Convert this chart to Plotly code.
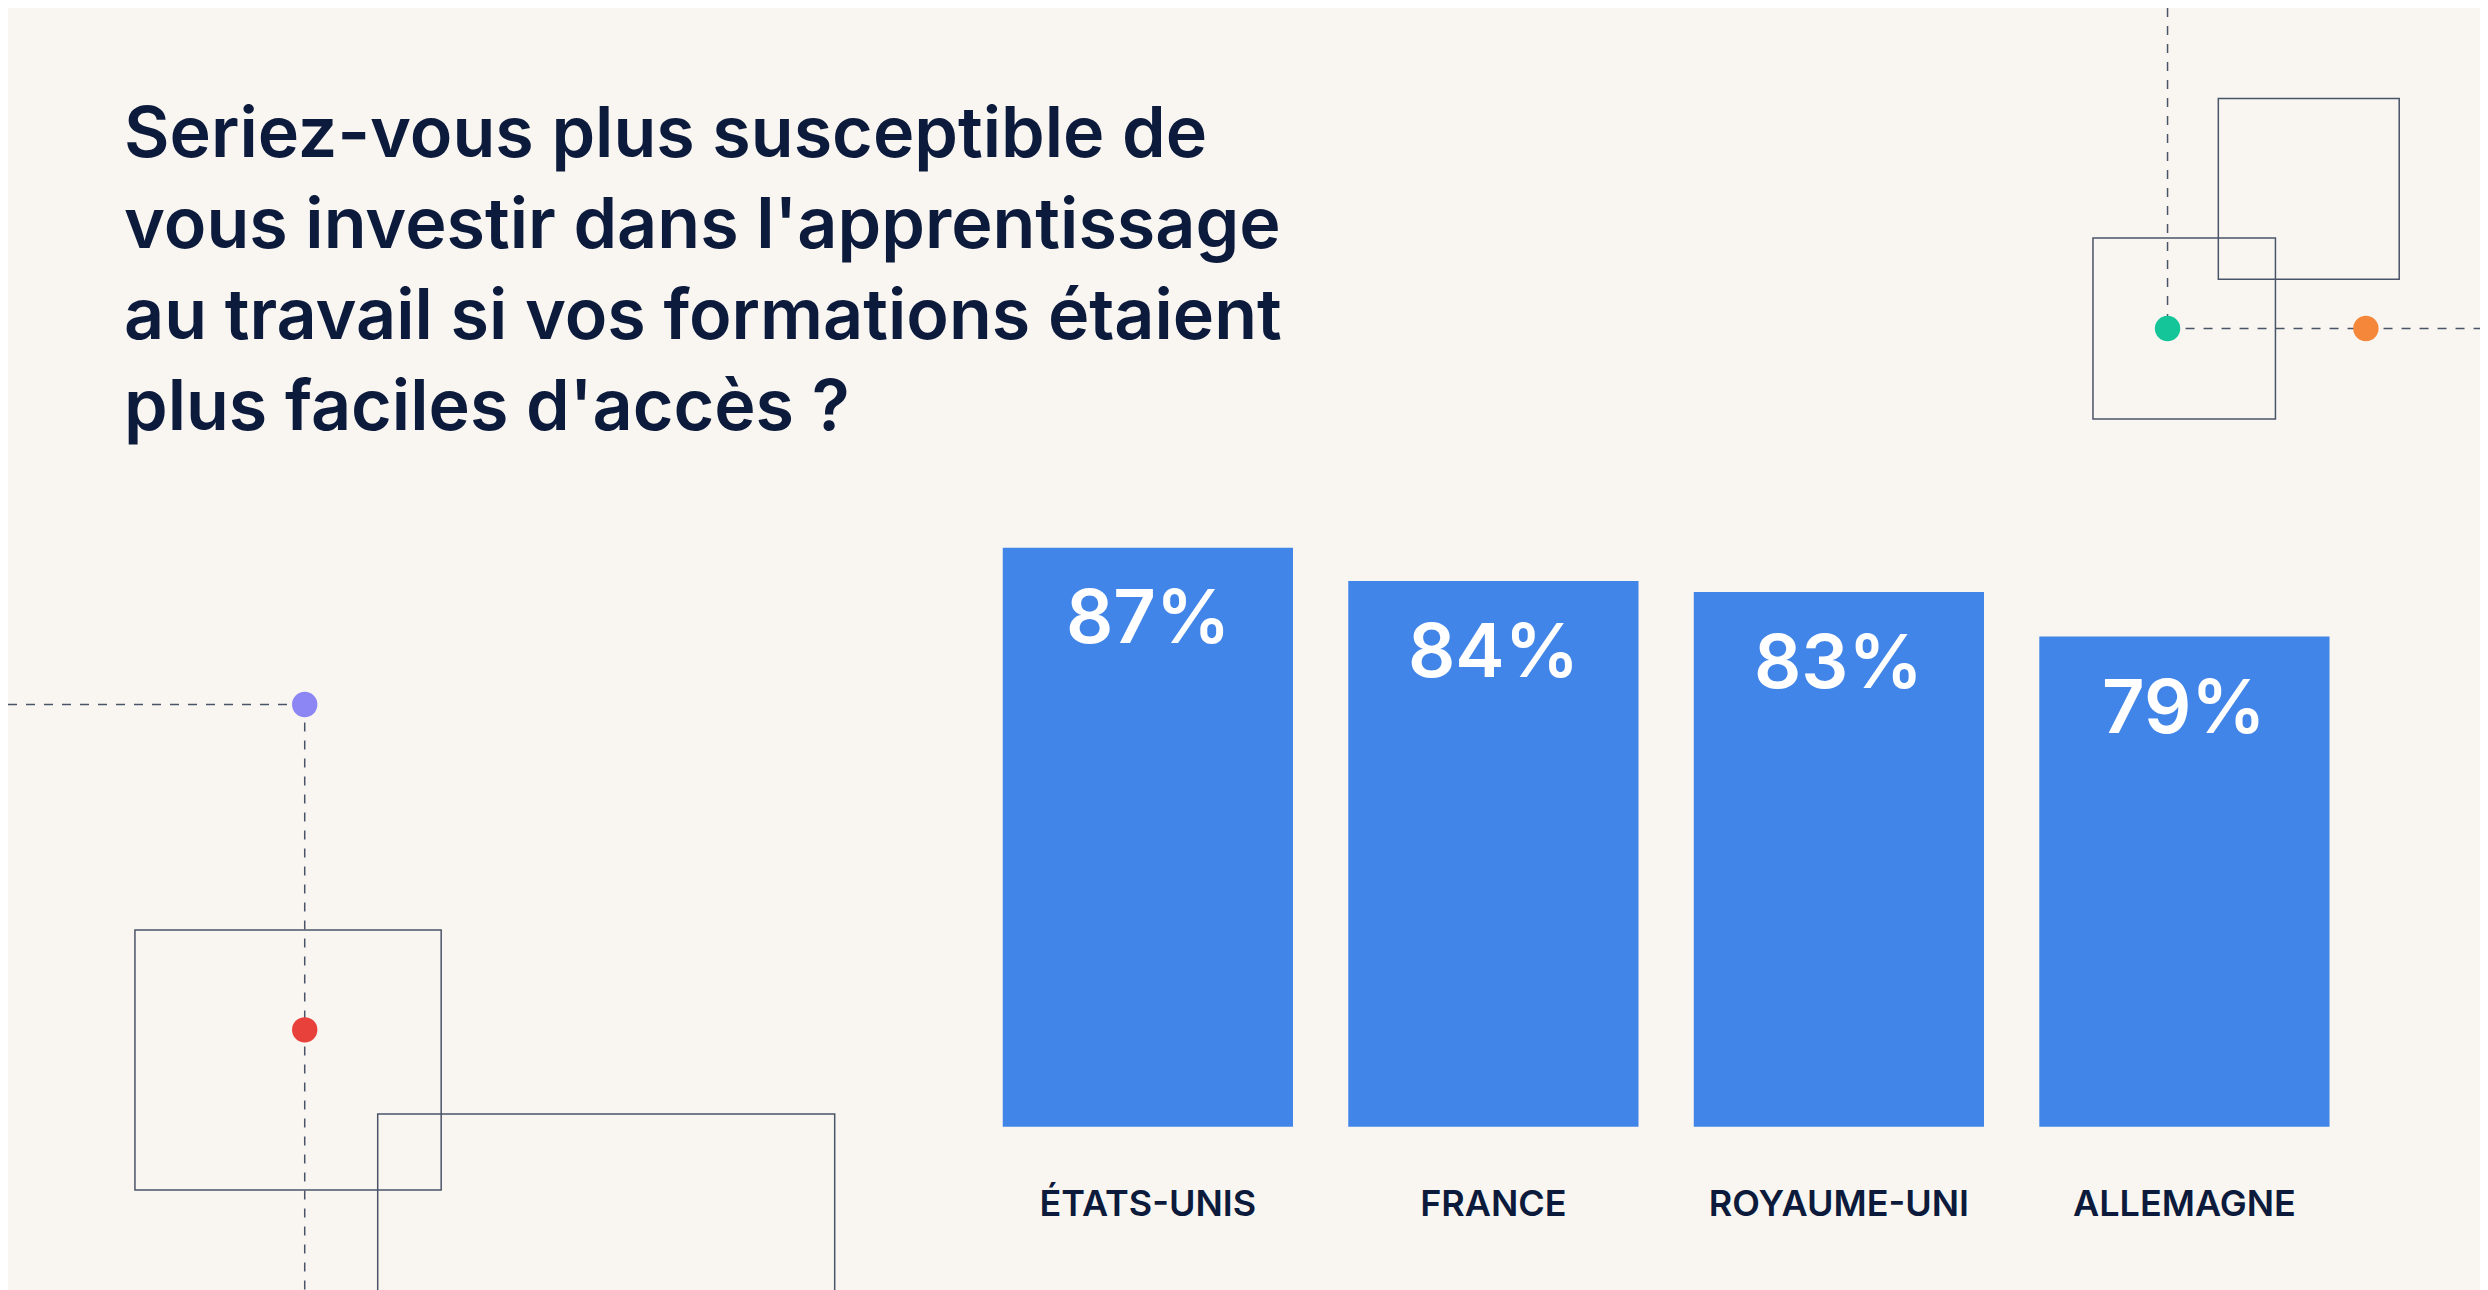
import plotly.graph_objects as go

countries = ["ÉTATS-UNIS", "FRANCE", "ROYAUME-UNI", "ALLEMAGNE"]
values = [87, 84, 83, 79]
labels = ["87%", "84%", "83%", "79%"]

W, H = 1568, 813  # layout sketch units, mapped to paper


def px(x):
    return x / W


def py(y):
    return 1 - y / H


fig = go.Figure()
fig.add_trace(go.Bar(x=countries, y=values, marker=dict(color="#4285e8", line=dict(width=0)),
                     hoverinfo="skip"))

for c, v, t in zip(countries, values, labels):
    fig.add_annotation(x=c, y=v, text=t, showarrow=False, yanchor="top", yshift=-22,
                       font=dict(family="Inter", size=74, color="white", weight=600))

line_col = "#4a5468"
shapes = []
for x0, y0, x1, y1 in [(1393, 57, 1507, 171), (1314, 145, 1429, 259),
                       (80, 581, 273, 745), (233, 697, 521, 830)]:
    shapes.append(dict(type="rect", xref="paper", yref="paper", x0=px(x0), x1=px(x1),
                       y0=py(y0), y1=py(y1), line=dict(color=line_col, width=1.5)))
for x0, y0, x1, y1 in [(1361, 0, 1361, 202), (1361, 202, 1568, 202),
                       (0, 439, 187, 439), (187, 439, 187, 813)]:
    shapes.append(dict(type="line", xref="paper", yref="paper", x0=px(x0), x1=px(x1),
                       y0=py(y0), y1=py(y1), line=dict(color=line_col, width=1.5, dash="dash")))
r = 8
for x, y, col in [(1361, 202, "#14c59a"), (1486, 202, "#f5873a"),
                  (187, 439, "#8c86f5"), (187, 644, "#e8403a")]:
    shapes.append(dict(type="circle", xref="paper", yref="paper", x0=px(x - r), x1=px(x + r),
                       y0=py(y - r), y1=py(y + r), fillcolor=col, line=dict(width=0)))

fig.add_annotation(xref="paper", yref="paper", x=px(72), y=py(50), xanchor="left", yanchor="top",
                   align="left", showarrow=False,
                   text="Seriez-vous plus susceptible de<br>vous investir dans l'apprentissage<br>"
                        "au travail si vos formations étaient<br>plus faciles d'accès ?",
                   font=dict(family="Inter", size=70, color="#0c1a3c", weight=600))

fig.update_layout(
    width=2488, height=1290, margin=dict(l=0, r=0, t=0, b=0),
    paper_bgcolor="#f9f6f1", plot_bgcolor="#f9f6f1", showlegend=False,
    bargap=0.16, shapes=shapes,
    xaxis=dict(domain=[px(609.5), px(1480.5)], showgrid=False, showline=False, ticks="",
               ticklabelstandoff=52,
               tickfont=dict(family="Inter", size=36, color="#0c1a3c", weight=600)),
    yaxis=dict(domain=[py(705), py(340)], range=[35, 87], visible=False),
)
fig.write_html("out.html")
